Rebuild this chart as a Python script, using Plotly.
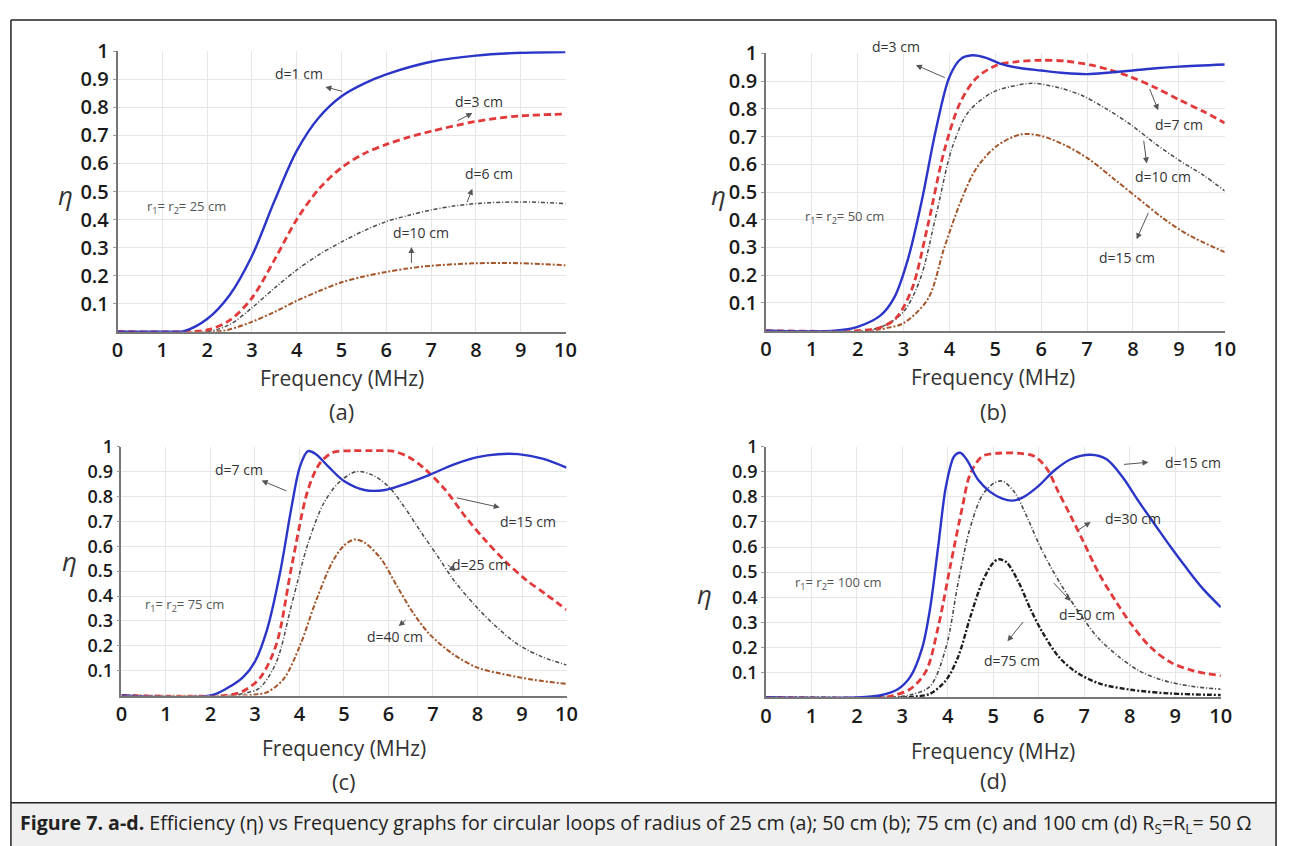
import plotly.graph_objects as go

W, H = 1291, 846

# ---------------- data ----------------
# Panel (a)  r1=r2=25 cm
fa_d1 = [0, 1.0, 1.5, 2.0, 2.5, 3.0, 3.5, 4.0, 4.5, 5.0, 5.5, 6.0, 7.0, 8.0, 9.0, 10.0]
ea_d1 = [0, 0, 0.003, 0.045, 0.13, 0.27, 0.465, 0.645, 0.765, 0.84, 0.885, 0.918, 0.963, 0.985, 0.995, 0.998]
fa_d3 = [0, 1.5, 2.0, 2.5, 3.0, 3.5, 4.0, 4.5, 5.0, 5.5, 6.0, 6.5, 7.0, 8.0, 9.0, 10.0]
ea_d3 = [0, 0, 0.006, 0.04, 0.12, 0.255, 0.40, 0.51, 0.585, 0.635, 0.668, 0.694, 0.715, 0.75, 0.77, 0.776]
fa_d6 = [0, 2.0, 2.5, 3.0, 3.5, 4.0, 4.5, 5.0, 5.5, 6.0, 6.5, 7.0, 7.5, 8.0, 9.0, 10.0]
ea_d6 = [0, 0, 0.025, 0.085, 0.155, 0.22, 0.275, 0.32, 0.36, 0.393, 0.415, 0.434, 0.448, 0.457, 0.463, 0.457]
fa_d10 = [0, 2.2, 2.5, 3.0, 3.5, 4.0, 4.5, 5.0, 5.5, 6.0, 6.5, 7.0, 8.0, 9.0, 10.0]
ea_d10 = [0, 0, 0.008, 0.035, 0.07, 0.11, 0.145, 0.176, 0.197, 0.213, 0.226, 0.235, 0.244, 0.244, 0.237]

# Panel (b)  r1=r2=50 cm
fb_d3 = [0, 1.5, 2.0, 2.5, 2.8, 3.1, 3.4, 3.7, 4.0, 4.25, 4.5, 4.8, 5.1, 5.5, 6.0, 6.5,
         7.0, 7.5, 8.0, 8.5, 9.0, 10.0]
eb_d3 = [0, 0, 0.014, 0.055, 0.12, 0.26, 0.47, 0.72, 0.915, 0.98, 0.993, 0.984, 0.963, 0.948, 0.938,
         0.929, 0.925, 0.931, 0.938, 0.946, 0.952, 0.96]
fb_d7 = [0, 2.0, 2.5, 2.83, 3.18, 3.53, 3.89, 4.24, 4.59, 5.04, 5.48, 6.0, 6.54, 7.07, 7.5, 7.95, 8.48,
         9.0, 9.54, 10.0]
eb_d7 = [0, 0, 0.012, 0.044, 0.149, 0.38, 0.65, 0.824, 0.911, 0.958, 0.97, 0.975, 0.972, 0.958, 0.94,
         0.915, 0.877, 0.833, 0.79, 0.749]
fb_d10 = [0, 2.2, 2.6, 3.0, 3.36, 3.71, 4.06, 4.42, 4.95, 5.48, 5.83, 6.36, 6.89, 7.42, 7.95, 8.48, 9.0,
          9.54, 10.0]
eb_d10 = [0, 0, 0.02, 0.068, 0.184, 0.417, 0.66, 0.79, 0.86, 0.885, 0.892, 0.877, 0.848, 0.80, 0.743,
          0.675, 0.615, 0.56, 0.504]
fb_d15 = [0, 2.3, 2.7, 3.0, 3.53, 3.89, 4.24, 4.59, 5.04, 5.57, 6.0, 6.54, 7.07, 7.6, 8.13, 8.66, 9.19,
          10.0]
eb_d15 = [0, 0, 0.012, 0.027, 0.114, 0.30, 0.463, 0.586, 0.667, 0.708, 0.702, 0.667, 0.615, 0.545, 0.475,
          0.405, 0.347, 0.283]

# Panel (c)  r1=r2=75 cm
fc_d7 = [0, 2.0, 2.38, 2.74, 3.01, 3.28, 3.56, 3.83, 4.01, 4.19, 4.37, 4.65, 5.0, 5.46, 5.92, 6.37, 6.91,
         7.46, 8.0, 8.46, 8.91, 9.46, 10.0]
ec_d7 = [0, 0, 0.03, 0.075, 0.14, 0.27, 0.49, 0.766, 0.92, 0.982, 0.97, 0.92, 0.862, 0.826, 0.826, 0.85,
         0.886, 0.928, 0.958, 0.97, 0.97, 0.952, 0.916]
fc_d15 = [0, 2.3, 2.7, 3.1, 3.47, 3.83, 4.19, 4.46, 4.74, 5.19, 5.64, 6.1, 6.46, 6.82, 7.28, 7.73, 8.19,
          8.64, 9.09, 9.55, 10.0]
ec_d15 = [0, 0, 0.015, 0.068, 0.2, 0.525, 0.826, 0.934, 0.976, 0.984, 0.984, 0.982, 0.958, 0.91, 0.826,
          0.718, 0.621, 0.537, 0.465, 0.405, 0.345]
fc_d25 = [0, 2.4, 2.8, 3.1, 3.47, 3.83, 4.19, 4.56, 4.92, 5.28, 5.64, 6.01, 6.37, 6.73, 7.1, 7.46, 7.91,
          8.37, 8.91, 9.46, 10.0]
ec_d25 = [0, 0, 0.01, 0.03, 0.13, 0.37, 0.61, 0.778, 0.862, 0.90, 0.886, 0.838, 0.754, 0.657, 0.561,
          0.465, 0.369, 0.285, 0.205, 0.155, 0.123]
fc_d40 = [0, 2.6, 3.0, 3.28, 3.65, 4.01, 4.37, 4.74, 5.0, 5.24, 5.46, 5.83, 6.19, 6.55, 6.91, 7.46, 8.0,
          8.55, 9.27, 10.0]
ec_d40 = [0, 0, 0.004, 0.014, 0.068, 0.2, 0.38, 0.537, 0.603, 0.627, 0.615, 0.55, 0.44, 0.333, 0.249,
          0.165, 0.112, 0.087, 0.063, 0.047]

# Panel (d)  r1=r2=100 cm
fd_d15 = [0, 2.0, 2.5, 2.9, 3.17, 3.44, 3.61, 3.79, 3.96, 4.14, 4.27, 4.41, 4.67, 4.93, 5.2, 5.4, 5.64,
          5.99, 6.34, 6.7, 7.14, 7.49, 7.84, 8.19, 8.55, 8.9, 9.25, 9.6, 10.0]
ed_d15 = [0, 0, 0.008, 0.033, 0.081, 0.2, 0.355, 0.605, 0.843, 0.962, 0.976, 0.95, 0.867, 0.82, 0.793,
          0.785, 0.797, 0.843, 0.905, 0.95, 0.968, 0.95, 0.879, 0.783, 0.69, 0.60, 0.515, 0.435, 0.36]
fd_d30 = [0, 2.5, 2.8, 3.17, 3.52, 3.79, 4.05, 4.32, 4.49, 4.76, 5.11, 5.55, 5.9, 6.17, 6.43, 6.7, 6.96,
          7.31, 7.67, 8.02, 8.46, 8.9, 9.43, 10.0]
ed_d30 = [0, 0, 0.008, 0.033, 0.105, 0.283, 0.52, 0.76, 0.89, 0.962, 0.974, 0.974, 0.962, 0.914, 0.82,
          0.724, 0.629, 0.498, 0.39, 0.295, 0.20, 0.14, 0.105, 0.087]
fd_d50 = [0, 2.7, 3.17, 3.61, 3.96, 4.23, 4.49, 4.76, 5.02, 5.2, 5.46, 5.73, 5.99, 6.26, 6.61, 6.96, 7.31,
          7.75, 8.19, 8.72, 9.34, 10.0]
ed_d50 = [0, 0, 0.01, 0.045, 0.2, 0.462, 0.676, 0.807, 0.855, 0.863, 0.82, 0.724, 0.617, 0.521, 0.414,
          0.319, 0.236, 0.164, 0.108, 0.069, 0.045, 0.033]
fd_d75 = [0, 3.0, 3.3, 3.61, 3.96, 4.23, 4.49, 4.76, 4.98, 5.11, 5.29, 5.55, 5.81, 6.08, 6.43, 6.79, 7.31,
          8.02, 8.9, 10.0]
ed_d75 = [0, 0, 0.004, 0.015, 0.069, 0.164, 0.319, 0.462, 0.533, 0.551, 0.539, 0.462, 0.355, 0.26, 0.164,
          0.105, 0.057, 0.031, 0.016, 0.01]

x_ticks = list(range(0, 11))
y_ticks = [0.1, 0.2, 0.3, 0.4, 0.5, 0.6, 0.7, 0.8, 0.9, 1.0]
y_ticktext = ["0.1", "0.2", "0.3", "0.4", "0.5", "0.6", "0.7", "0.8", "0.9", "1"]

# ---------------- layout helpers ----------------
def px_x(p):
    return p / W

def px_y(p):
    return 1 - p / H

# panel boxes in pixels: (x at 0 MHz, x at 10 MHz, y at eta=0, y at eta=1, y tick font size)
panels = {
    "": (113, 567, 323, 38, 20),
    "2": (770, 1235, 322, 40, 20),
    "3": (117, 568, 693, 440, 18),
    "4": (770, 1231, 695, 440, 18),
}

BLUE = "#2b35c8"
RED = "#e23a3a"
GRAY = "#4a4a4a"
BROWN = "#a5552a"
BLACK = "#1e1e1e"

fig = go.Figure()

def add(ax, f, e, color, dash, width, name):
    fig.add_trace(go.Scatter(
        x=f, y=e, mode="lines", name=name, xaxis="x" + ax, yaxis="y" + ax,
        line=dict(color=color, dash=dash, width=width, shape="spline", smoothing=0.9),
        showlegend=False, hoverinfo="skip"))

RED_DASH = "7px,4px"
GRAY_DASH = "4px,2px,1px,2px"
BROWN_DASH = "5px,2px,2px,2px"

# (a)
add("", fa_d10, ea_d10, BROWN, BROWN_DASH, 2, "d=10 cm")
add("", fa_d6, ea_d6, GRAY, GRAY_DASH, 1.5, "d=6 cm")
add("", fa_d3, ea_d3, RED, RED_DASH, 2.8, "d=3 cm")
add("", fa_d1, ea_d1, BLUE, "solid", 2.4, "d=1 cm")
# (b)
add("2", fb_d15, eb_d15, BROWN, BROWN_DASH, 2, "d=15 cm")
add("2", fb_d10, eb_d10, GRAY, GRAY_DASH, 1.5, "d=10 cm")
add("2", fb_d7, eb_d7, RED, RED_DASH, 2.8, "d=7 cm")
add("2", fb_d3, eb_d3, BLUE, "solid", 2.4, "d=3 cm")
# (c)
add("3", fc_d40, ec_d40, BROWN, BROWN_DASH, 2, "d=40 cm")
add("3", fc_d25, ec_d25, GRAY, GRAY_DASH, 1.5, "d=25 cm")
add("3", fc_d15, ec_d15, RED, RED_DASH, 2.8, "d=15 cm")
add("3", fc_d7, ec_d7, BLUE, "solid", 2.4, "d=7 cm")
# (d)
add("4", fd_d75, ed_d75, BLACK, BROWN_DASH, 2.4, "d=75 cm")
add("4", fd_d50, ed_d50, GRAY, GRAY_DASH, 1.6, "d=50 cm")
add("4", fd_d30, ed_d30, RED, RED_DASH, 2.8, "d=30 cm")
add("4", fd_d15, ed_d15, BLUE, "solid", 2.4, "d=15 cm")

layout = dict(
    width=W, height=H, margin=dict(l=0, r=0, t=0, b=0),
    paper_bgcolor="white", plot_bgcolor="white", showlegend=False,
    font=dict(family="Open Sans, sans-serif", color="#222"),
)
XTICKFONT = dict(family="Open Sans, sans-serif", size=20, color="#1a1a1a", weight=600)
for key, (x0, x10, yb, yt, yfs) in panels.items():
    layout["xaxis" + key] = dict(
        domain=[px_x(x0), px_x(x10)], range=[0, 10], anchor="y" + key,
        tickvals=x_ticks, showgrid=True, gridcolor="#e6e6e6", gridwidth=1,
        showline=True, linecolor="#777", linewidth=1.5, ticks="",
        tickfont=XTICKFONT, zeroline=False, fixedrange=True)
    layout["yaxis" + key] = dict(
        domain=[px_y(yb), px_y(yt)], range=[0, 1.0], anchor="x" + key,
        tickvals=y_ticks, ticktext=y_ticktext, showgrid=True, gridcolor="#e6e6e6",
        gridwidth=1, showline=True, linecolor="#777", linewidth=1.5, ticks="outside",
        ticklen=3, tickcolor="#999", zeroline=False, fixedrange=True,
        tickfont=dict(family="Open Sans, sans-serif", size=yfs, color="#1a1a1a", weight=600))
fig.update_layout(**layout)

ann = []

def text(xp, yp, s, size, color="#222", anchor="center", family="Open Sans, sans-serif"):
    ann.append(dict(x=px_x(xp), y=px_y(yp), xref="paper", yref="paper", text=s, showarrow=False,
                    xanchor=anchor, yanchor="middle", font=dict(size=size, color=color, family=family)))

# axis titles and panel labels
for xp, yp, lab, lyp in [(340, 370, "(a)", 404), (1000, 369, "(b)", 404), (343, 746, "(c)", 780),
                         (1000, 749, "(d)", 779)]:
    text(xp, yp, "Frequency (MHz)", 21, "#333")
    text(xp, lyp, lab, 22, "#333")
for xp, yp in [(60, 184), (722, 184), (64, 556), (708, 590)]:
    text(xp, yp, "<i>η</i>", 26, "#333")

# "d=3 cm" of panel (b) sits above the plotting area
text(902, 33, "d=3 cm", 14, "#333")

# curve labels with arrows: (axis, label x, label y, head x, head y, tail x, tail y, text)
labels = [
    ("", 4.05, 0.92, 4.64, 0.873, 5.05, 0.856, "d=1 cm"),
    ("", 8.06, 0.82, 7.92, 0.78, 7.56, 0.75, "d=3 cm"),
    ("", 8.29, 0.563, 7.92, 0.51, 7.79, 0.457, "d=6 cm"),
    ("", 6.78, 0.352, 6.56, 0.302, 6.56, 0.24, "d=10 cm"),
    ("2", None, None, 3.27, 0.958, 3.93, 0.91, "d=3 cm"),
    ("2", 9.01, 0.743, 8.55, 0.795, 8.35, 0.877, "d=7 cm"),
    ("2", 8.66, 0.556, 8.3, 0.603, 8.23, 0.69, "d=10 cm"),
    ("2", 7.86, 0.265, 8.08, 0.33, 8.35, 0.43, "d=15 cm"),
    ("3", 2.65, 0.91, 3.15, 0.864, 3.74, 0.82, "d=7 cm"),
    ("3", 9.14, 0.70, 8.5, 0.756, 7.5, 0.796, "d=15 cm"),
    ("3", 8.05, 0.525, 7.5, 0.5, 7.3, 0.53, "d=25 cm"),
    ("3", 6.14, 0.237, 6.23, 0.279, 6.42, 0.309, "d=40 cm"),
    ("4", 9.38, 0.938, 8.41, 0.938, 7.84, 0.929, "d=15 cm"),
    ("4", 8.06, 0.712, 7.14, 0.70, 6.83, 0.664, "d=30 cm"),
    ("4", 7.05, 0.331, 6.7, 0.385, 6.3, 0.462, "d=50 cm"),
    ("4", 5.42, 0.146, 5.31, 0.224, 5.68, 0.307, "d=75 cm"),
]
for key, lx, ly, hx, hy, tx, ty, s in labels:
    if lx is not None:
        ann.append(dict(x=lx, y=ly, xref="x" + key, yref="y" + key, text=s, showarrow=False,
                        font=dict(size=14, color="#333", family="Open Sans, sans-serif")))
    ann.append(dict(x=hx, y=hy, xref="x" + key, yref="y" + key, axref="x" + key, ayref="y" + key,
                    ax=tx, ay=ty, text="", showarrow=True, arrowhead=2, arrowsize=1.2,
                    arrowwidth=1, arrowcolor="#555"))

radius_notes = [("", 1.55, 0.445, "r<sub>1</sub>= r<sub>2</sub>= 25 cm"),
                ("2", 1.72, 0.41, "r<sub>1</sub>= r<sub>2</sub>= 50 cm"),
                ("3", 1.42, 0.363, "r<sub>1</sub>= r<sub>2</sub>= 75 cm"),
                ("4", 1.59, 0.456, "r<sub>1</sub>= r<sub>2</sub>= 100 cm")]
for key, x, y, s in radius_notes:
    ann.append(dict(x=x, y=y, xref="x" + key, yref="y" + key, text=s, showarrow=False,
                    font=dict(size=13, color="#555", family="Open Sans, sans-serif")))

# caption
ann.append(dict(x=px_x(12), y=px_y(823), xref="paper", yref="paper", xanchor="left", yanchor="middle",
                showarrow=False,
                text="<b>Figure 7. a-d.</b> Efficiency (η) vs Frequency graphs for circular loops of radius of "
                     "25 cm (a); 50 cm (b); 75 cm (c) and 100 cm (d) R<sub>S</sub>=R<sub>L</sub>= 50 Ω",
                font=dict(size=19.6, color="#222", family="Open Sans, sans-serif")))

shapes = [
    dict(type="rect", xref="paper", yref="paper", x0=px_x(5), x1=px_x(1287), y0=0, y1=px_y(802),
         fillcolor="#efefef", line=dict(width=0), layer="below"),
    dict(type="line", xref="paper", yref="paper", x0=px_x(5), x1=px_x(1287), y0=px_y(802), y1=px_y(802),
         line=dict(color="#222", width=1.5)),
    dict(type="line", xref="paper", yref="paper", x0=px_x(5), x1=px_x(1287), y0=px_y(6), y1=px_y(6),
         line=dict(color="#222", width=1.5)),
    dict(type="line", xref="paper", yref="paper", x0=px_x(5), x1=px_x(5), y0=0, y1=px_y(6),
         line=dict(color="#222", width=1.5)),
    dict(type="line", xref="paper", yref="paper", x0=px_x(1287), x1=px_x(1287), y0=0, y1=px_y(6),
         line=dict(color="#222", width=1.5)),
]
fig.update_layout(annotations=ann, shapes=shapes)

fig.write_html("out.html")
